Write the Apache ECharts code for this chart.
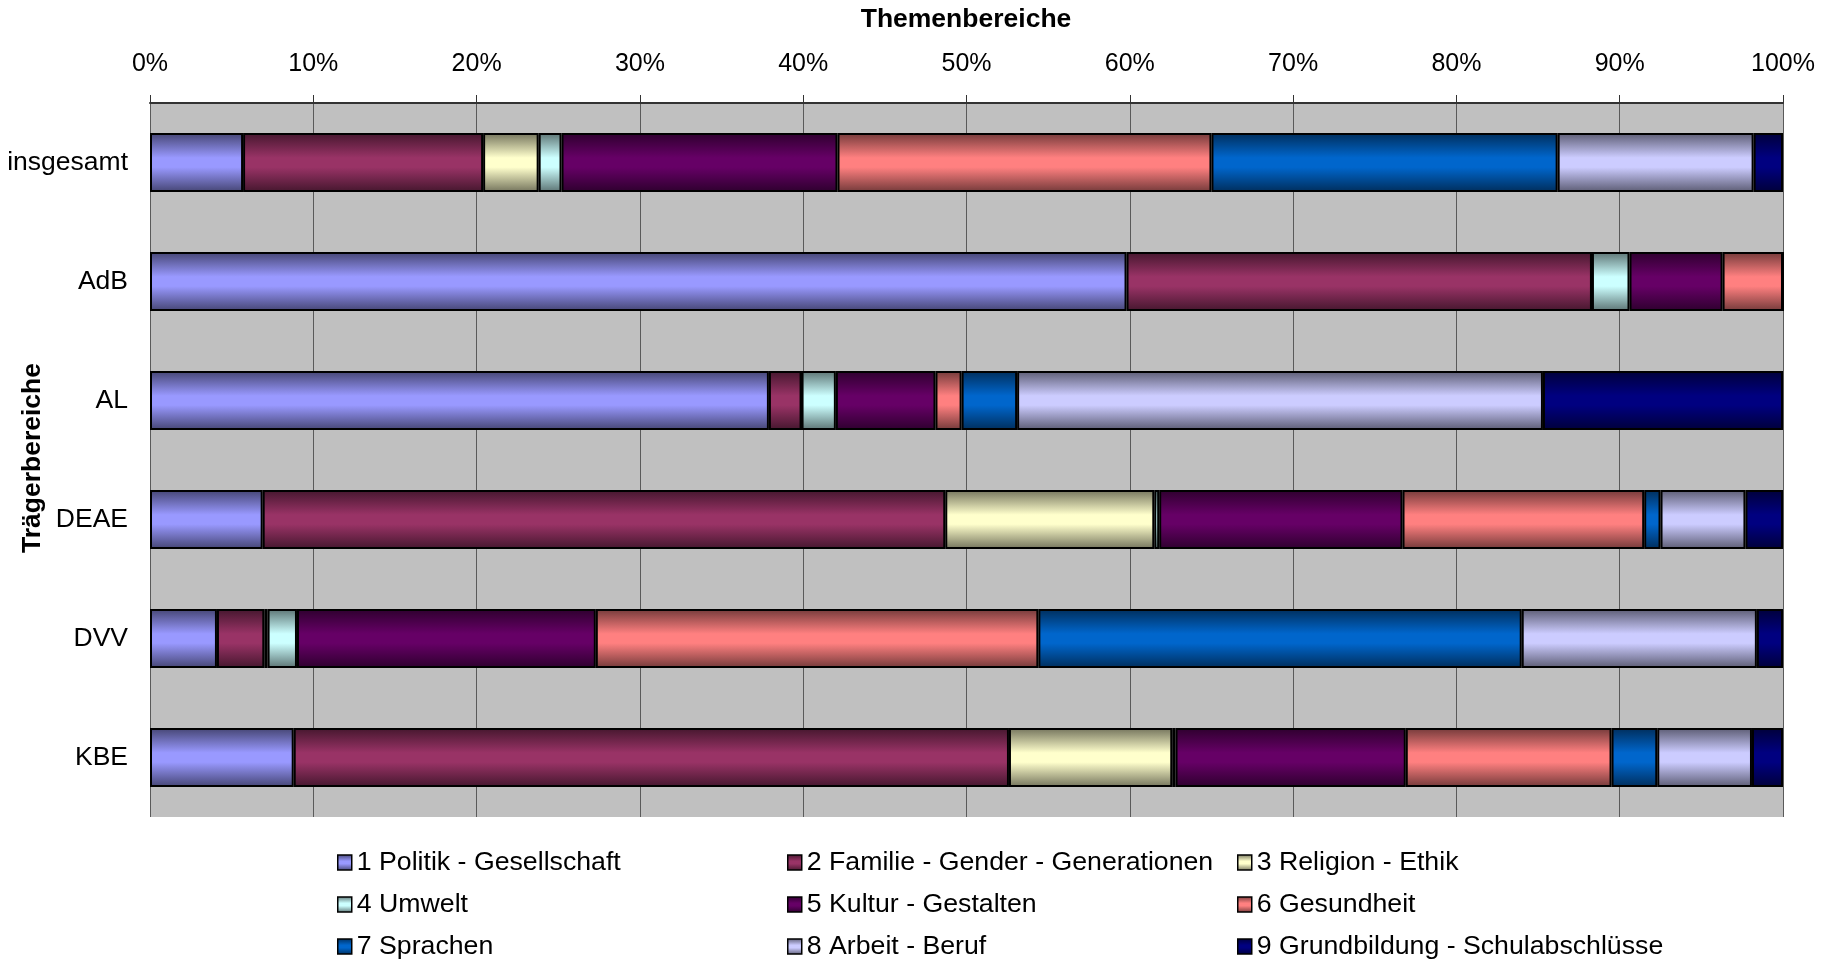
<!DOCTYPE html>
<html>
<head>
<meta charset="utf-8">
<script src="https://cdn.jsdelivr.net/npm/echarts@6/dist/echarts.min.js"></script>
<style>
html,body{margin:0;padding:0;background:#fff;}
#c{width:1834px;height:960px;}
</style>
</head>
<body>
<div id="c"></div>
<script>
const categories = ['insgesamt', 'AdB', 'AL', 'DEAE', 'DVV', 'KBE'];
const seriesNames = [
  '1 Politik - Gesellschaft',
  '2 Familie - Gender - Generationen',
  '3 Religion - Ethik',
  '4 Umwelt',
  '5 Kultur - Gestalten',
  '6 Gesundheit',
  '7 Sprachen',
  '8 Arbeit - Beruf',
  '9 Grundbildung - Schulabschlüsse'
];
const s1 = [5.7, 59.8, 37.9, 6.9, 4.1, 8.8];
const s2 = [14.7, 28.5, 2.0, 41.8, 2.9, 43.8];
const s3 = [3.4, 0, 0, 12.8, 0.2, 10.0];
const s4 = [1.4, 2.3, 2.1, 0.3, 1.8, 0.2];
const s5 = [16.9, 5.7, 6.1, 14.9, 18.3, 14.1];
const s6 = [22.9, 3.7, 1.6, 14.8, 27.1, 12.6];
const s7 = [21.2, 0, 3.4, 1.0, 29.6, 2.8];
const s8 = [12.0, 0, 32.2, 5.2, 14.4, 5.8];
const s9 = [1.8, 0, 14.7, 2.3, 1.6, 1.9];
const seriesValues = [s1, s2, s3, s4, s5, s6, s7, s8, s9];
const colors = ['#9999FF', '#993366', '#FFFFCC', '#CCFFFF', '#660066', '#FF8080', '#0066CC', '#CCCCFF', '#000080'];
const xTicks = ['0%', '10%', '20%', '30%', '40%', '50%', '60%', '70%', '80%', '90%', '100%'];

function shade(hex, f) {
  const n = parseInt(hex.slice(1), 16);
  const r = Math.round(((n >> 16) & 255) * f);
  const g = Math.round(((n >> 8) & 255) * f);
  const b = Math.round((n & 255) * f);
  return 'rgb(' + r + ',' + g + ',' + b + ')';
}
function grad(hex) {
  return new echarts.graphic.LinearGradient(0, 0, 0, 1, [
    { offset: 0, color: shade(hex, 0.45) },
    { offset: 0.42, color: hex },
    { offset: 0.58, color: hex },
    { offset: 1, color: shade(hex, 0.45) }
  ]);
}

const FONT = 'Liberation Sans, Arial, sans-serif';
const chart = echarts.init(document.getElementById('c'), null, { renderer: 'canvas' });

const series = seriesNames.map((name, i) => ({
  name: name,
  type: 'bar',
  stack: 'total',
  barWidth: 59,
  data: seriesValues[i],
  itemStyle: { color: grad(colors[i]), borderColor: '#000', borderWidth: 2 },
  emphasis: { disabled: true }
}));

function legendCol(idxs, left) {
  return {
    orient: 'vertical',
    left: left,
    top: 849,
    height: 111,
    padding: 0,
    icon: 'rect',
    itemWidth: 14,
    itemHeight: 15,
    itemGap: 15,
    selectedMode: false,
    data: idxs.map(i => seriesNames[i]),
    itemStyle: { borderColor: '#000', borderWidth: 1.5 },
    textStyle: { fontFamily: FONT, fontSize: 26.7, color: '#000', lineHeight: 26 }
  };
}

chart.setOption({
  animation: false,
  textStyle: { fontFamily: FONT },
  grid: {
    left: 150, right: 51, top: 103, bottom: 143,
    show: true, backgroundColor: '#C0C0C0', borderWidth: 0
  },
  xAxis: {
    type: 'value',
    position: 'top',
    min: 0, max: 100, interval: 10,
    axisLine: { show: true, lineStyle: { color: '#333', width: 2 } },
    axisTick: { show: true, length: 8, lineStyle: { color: '#333' } },
    axisLabel: {
      margin: 26, fontSize: 25, color: '#000', fontFamily: FONT,
      formatter: v => xTicks[Math.round(v / 10)]
    },
    splitLine: { show: true, lineStyle: { color: '#5a5a5a', width: 1 } }
  },
  yAxis: {
    type: 'category',
    data: categories,
    inverse: true,
    axisLine: { show: false },
    axisTick: { show: false },
    axisLabel: { margin: 22, fontSize: 26.5, color: '#000', fontFamily: FONT }
  },
  legend: [
    legendCol([0, 3, 6], 337),
    legendCol([1, 4, 7], 787),
    legendCol([2, 5, 8], 1237)
  ],
  graphic: [
    {
      type: 'text', x: 966, y: 20,
      style: { text: 'Themenbereiche', font: 'bold 26.5px ' + FONT, fill: '#000', textAlign: 'center', textVerticalAlign: 'middle' }
    },
    {
      type: 'text', x: 33, y: 458, rotation: Math.PI / 2,
      style: { text: 'Trägerbereiche', font: 'bold 26.5px ' + FONT, fill: '#000', textAlign: 'center', textVerticalAlign: 'middle' }
    }
  ],
  series: series
});
</script>
</body>
</html>
